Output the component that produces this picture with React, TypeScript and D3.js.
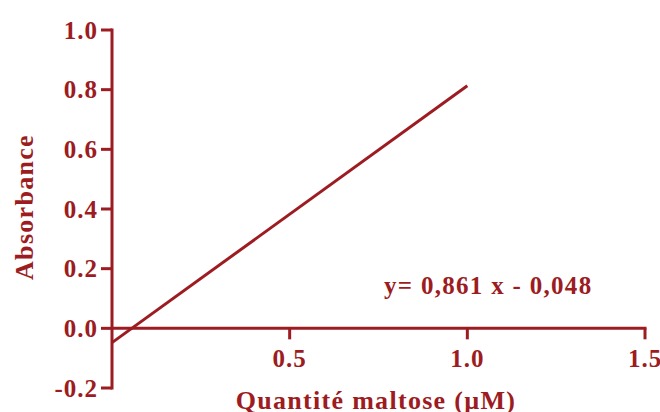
import React from "react";
import * as d3 from "d3";

const slope = 0.861;
const intercept = -0.048;
const lineXs = [0, 1.0];
const yTicks = [-0.2, 0.0, 0.2, 0.4, 0.6, 0.8, 1.0];
const xTicks = [0.5, 1.0, 1.5];
const xTitle = "Quantité maltose (µM)";
const yTitle = "Absorbance";
const equation = "y= 0,861 x - 0,048";

const W = 660;
const H = 412;
const color = "#9c1c22";
const font = "'Liberation Serif', 'DejaVu Serif', serif";

export default function App() {
  const x = d3.scaleLinear().domain([0, 1.5]).range([112, 645]);
  const y = d3.scaleLinear().domain([-0.2, 1.0]).range([388, 30]);
  const pts: [number, number][] = lineXs.map((v) => [v, slope * v + intercept]);
  const line = d3
    .line<[number, number]>()
    .x((d) => x(d[0]))
    .y((d) => y(d[1]));

  return (
    <svg
      width={W}
      height={H}
      style={{ position: "absolute", left: 0, top: 0 }}
      fontFamily={font}
      fontWeight="bold"
      fill={color}
    >
      {/* y axis */}
      <line x1={x(0)} x2={x(0)} y1={y(1.0) - 1.5} y2={y(-0.2) + 1.5} stroke={color} strokeWidth={3} />
      {yTicks.map((t) => (
        <g key={t}>
          <line x1={x(0) - 11} x2={x(0)} y1={y(t)} y2={y(t)} stroke={color} strokeWidth={3} />
          <text x={x(0) - 14} y={y(t)} dy="0.35em" textAnchor="end" fontSize={25} letterSpacing={1}>
            {t.toFixed(1)}
          </text>
        </g>
      ))}
      {/* x axis at y = 0 */}
      <line x1={x(0)} x2={x(1.5) + 1.5} y1={y(0)} y2={y(0)} stroke={color} strokeWidth={3} />
      {xTicks.map((t) => (
        <g key={t}>
          <line x1={x(t)} x2={x(t)} y1={y(0)} y2={y(0) + 11} stroke={color} strokeWidth={3} />
          <text x={x(t)} y={367} textAnchor="middle" fontSize={25} letterSpacing={1}>
            {t.toFixed(1)}
          </text>
        </g>
      ))}
      {/* regression line */}
      <path d={line(pts) || ""} stroke={color} strokeWidth={3} fill="none" />
      <text x={384} y={294} fontSize={25} letterSpacing={1.3}>
        {equation}
      </text>
      <text x={376} y={409} textAnchor="middle" fontSize={26} letterSpacing={1.3}>
        {xTitle}
      </text>
      <text
        transform={`translate(33, 207) rotate(-90)`}
        textAnchor="middle"
        fontSize={26}
        letterSpacing={1.3}
      >
        {yTitle}
      </text>
    </svg>
  );
}
